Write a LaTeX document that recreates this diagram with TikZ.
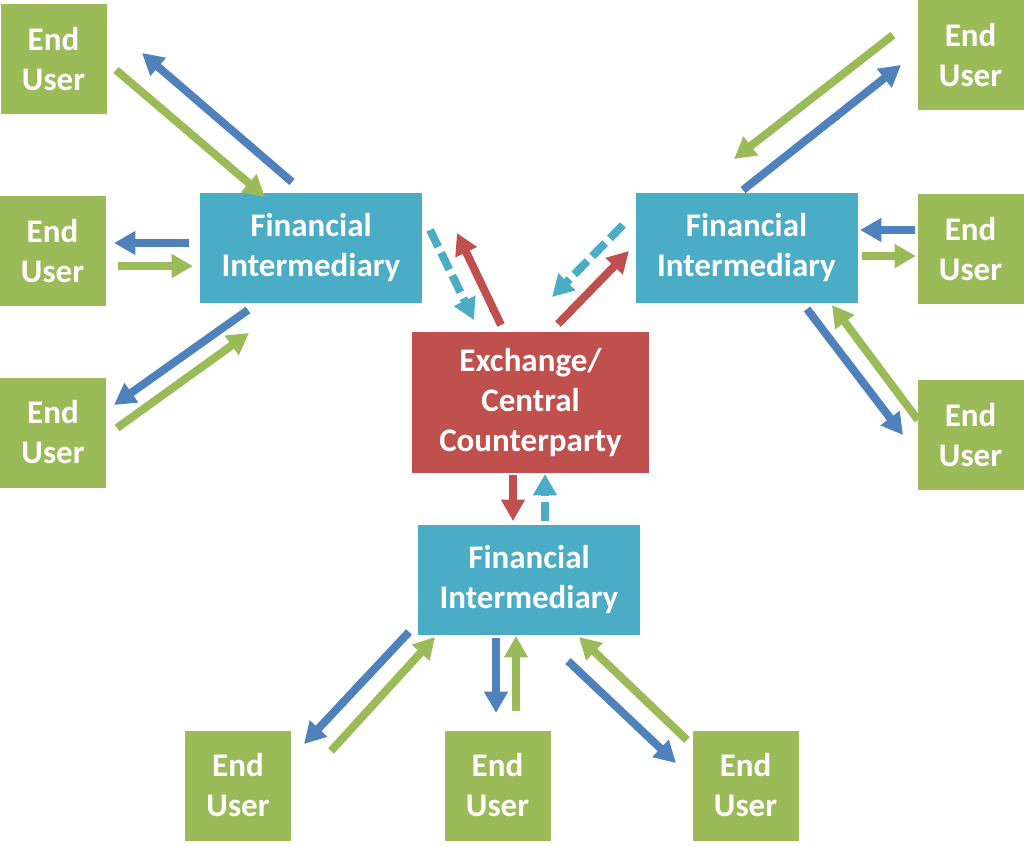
\documentclass[tikz,border=0pt]{standalone}
\usepackage{fontspec}
\setmainfont{Carlito}
\usetikzlibrary{arrows.meta}
\definecolor{eugreen}{HTML}{9BBB59}
\definecolor{fiblue}{HTML}{4BACC6}
\definecolor{exred}{HTML}{C0504D}
\definecolor{arblue}{HTML}{4F81BD}
\tikzset{
  box/.style={rectangle, inner sep=0pt, text=white, align=center,
    font=\fontsize{24.75}{30}\selectfont\bfseries},
  eubox/.style={box, fill=eugreen, minimum width=79.5pt, minimum height=82.5pt},
  fibox/.style={box, fill=fiblue, minimum width=166.5pt, minimum height=82.5pt},
  exbox/.style={box, fill=exred, minimum width=177.75pt, minimum height=105.75pt},
  flow/.style={line width=6pt, -{Triangle[length=16pt,width=17pt]}},
  gflow/.style={flow, draw=eugreen},
  bflow/.style={flow, draw=arblue},
  rflow/.style={flow, draw=exred},
  cflow/.style={flow, draw=fiblue, dash pattern=on 14pt off 5pt},
}
\begin{document}
\begin{tikzpicture}[x=0.75pt, y=-0.75pt]
\useasboundingbox (0,0) rectangle (1024,846);
% boxes
\node[eubox] (eu1) at (53.5,59) {End\\User};
\node[eubox] (eu2) at (52.5,251) {End\\User};
\node[eubox] (eu3) at (53,432.5) {End\\User};
\node[fibox] (fi1) at (311,248) {Financial\\Intermediary};
\node[fibox] (fi2) at (746.5,248) {Financial\\Intermediary};
\node[eubox] (eu4) at (970.5,55) {End\\User};
\node[eubox] (eu5) at (970.5,249) {End\\User};
\node[eubox] (eu6) at (970.5,435) {End\\User};
\node[exbox] (ex) at (530.5,402.5) {Exchange/\\Central\\Counterparty};
\node[fibox] (fi3) at (529,579.5) {Financial\\Intermediary};
\node[eubox] (eu7) at (238,785.5) {End\\User};
\node[eubox] (eu8) at (497.5,785.5) {End\\User};
\node[eubox] (eu9) at (745.5,785.5) {End\\User};
% arrow end points
\coordinate (g1s) at (116,70);  \coordinate (g1e) at (265,197);
\coordinate (b1s) at (292,182); \coordinate (b1e) at (142,53);
\coordinate (g2s) at (118,266); \coordinate (g2e) at (193,266);
\coordinate (b2s) at (189,243); \coordinate (b2e) at (114,243);
\coordinate (b3s) at (248,310); \coordinate (b3e) at (114,405);
\coordinate (g3s) at (117,428); \coordinate (g3e) at (249,333);
\coordinate (c1s) at (430,230); \coordinate (c1e) at (474,320);
\coordinate (r1s) at (501,325); \coordinate (r1e) at (457,233);
\coordinate (c2s) at (623,225); \coordinate (c2e) at (552,297);
\coordinate (r2s) at (558,324); \coordinate (r2e) at (629,251);
\coordinate (r3s) at (513,475); \coordinate (r3e) at (513,521);
\coordinate (c3s) at (545,521); \coordinate (c3e) at (545,474);
\coordinate (g4s) at (893,35);  \coordinate (g4e) at (734,159);
\coordinate (b4s) at (743,190); \coordinate (b4e) at (901,65);
\coordinate (b5s) at (915,230); \coordinate (b5e) at (860,230);
\coordinate (g5s) at (862,256); \coordinate (g5e) at (916,256);
\coordinate (b6s) at (807,309); \coordinate (b6e) at (903,435);
\coordinate (g6s) at (918,420); \coordinate (g6e) at (832,305);
\coordinate (b7s) at (409,632); \coordinate (b7e) at (304,744);
\coordinate (g7s) at (331,751); \coordinate (g7e) at (435,637);
\coordinate (b8s) at (496,638); \coordinate (b8e) at (496,713);
\coordinate (g8s) at (516,711); \coordinate (g8e) at (516,636);
\coordinate (b9s) at (568,661); \coordinate (b9e) at (676,763);
\coordinate (g9s) at (687,740); \coordinate (g9e) at (579,637);
% arrows
\draw[gflow] (g1s) -- (g1e);
\draw[bflow] (b1s) -- (b1e);
\draw[gflow] (g2s) -- (g2e);
\draw[bflow] (b2s) -- (b2e);
\draw[bflow] (b3s) -- (b3e);
\draw[gflow] (g3s) -- (g3e);
\draw[cflow] (c1s) -- (c1e);
\draw[rflow] (r1s) -- (r1e);
\draw[cflow] (c2s) -- (c2e);
\draw[rflow] (r2s) -- (r2e);
\draw[rflow] (r3s) -- (r3e);
\draw[cflow] (c3s) -- (c3e);
\draw[gflow] (g4s) -- (g4e);
\draw[bflow] (b4s) -- (b4e);
\draw[bflow] (b5s) -- (b5e);
\draw[gflow] (g5s) -- (g5e);
\draw[bflow] (b6s) -- (b6e);
\draw[gflow] (g6s) -- (g6e);
\draw[bflow] (b7s) -- (b7e);
\draw[gflow] (g7s) -- (g7e);
\draw[bflow] (b8s) -- (b8e);
\draw[gflow] (g8s) -- (g8e);
\draw[bflow] (b9s) -- (b9e);
\draw[gflow] (g9s) -- (g9e);
\end{tikzpicture}
\end{document}
